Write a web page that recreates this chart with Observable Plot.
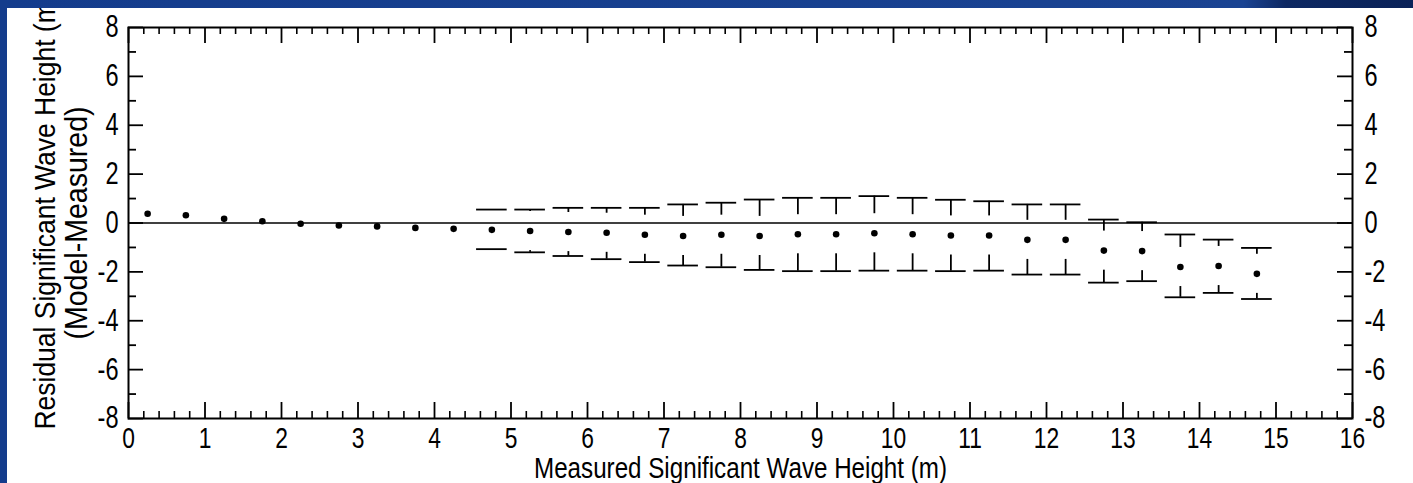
<!DOCTYPE html>
<html>
<head>
<meta charset="utf-8">
<script src="https://cdn.jsdelivr.net/npm/d3@7"></script>
<script src="https://cdn.jsdelivr.net/npm/@observablehq/plot@0.6"></script>
<style>
  html, body { margin: 0; padding: 0; background: #fff; }
  #wrap { position: relative; width: 1413px; height: 483px; overflow: hidden; }
  #topbar { position: absolute; left: 0; top: 0; width: 1413px; height: 8px;
    background: linear-gradient(90deg, #143c8c 0%, #1a4392 88%, #0d2862 91%, #0a2258 100%); }
  #leftbar { position: absolute; left: 0; top: 0; width: 7px; height: 483px; background: #143c8c; }
</style>
</head>
<body>
<div id="wrap"><div id="chart"></div><div id="topbar"></div><div id="leftbar"></div></div>
<script>
// Bin centres (measured significant wave height, m)
const binX = [0.25,0.75,1.25,1.75,2.25,2.75,3.25,3.75,4.25,4.75,5.25,5.75,6.25,6.75,7.25,7.75,8.25,8.75,9.25,9.75,10.25,10.75,11.25,11.75,12.25,12.75,13.25,13.75,14.25,14.75];
// Mean residual (model - measured, m)
const meanResidual = [0.38,0.32,0.17,0.07,-0.03,-0.10,-0.14,-0.20,-0.24,-0.28,-0.33,-0.37,-0.40,-0.48,-0.53,-0.48,-0.53,-0.46,-0.46,-0.42,-0.46,-0.51,-0.51,-0.69,-0.69,-1.13,-1.15,-1.80,-1.76,-2.08];
// Upper / lower error bar ends (null = no bar)
const upperBar = [null,null,null,null,null,null,null,null,null,0.55,0.55,0.62,0.62,0.62,0.76,0.83,0.96,1.03,1.03,1.10,1.03,0.95,0.89,0.76,0.76,0.14,0.03,-0.47,-0.68,-1.02];
const lowerBar = [null,null,null,null,null,null,null,null,null,-1.07,-1.20,-1.35,-1.48,-1.60,-1.74,-1.81,-1.92,-1.97,-1.97,-1.95,-1.95,-1.97,-1.95,-2.11,-2.11,-2.44,-2.38,-3.04,-2.86,-3.11];
// Tick labels
const xTickLabels = [0,1,2,3,4,5,6,7,8,9,10,11,12,13,14,15,16];
const yTickLabels = [-8,-6,-4,-2,0,2,4,6,8];
const yMinorTicks = [-7,-5,-3,-1,1,3,5,7];
const xTitle = "Measured Significant Wave Height (m)";
const yTitle1 = "Residual Significant Wave Height (m)";
const yTitle2 = "(Model-Measured)";

const rows = binX.map((x, i) => ({x, mean: meanResidual[i], hi: upperBar[i], lo: lowerBar[i]}));
const bars = rows.filter(d => d.hi != null);
const xMinor = d3.range(0, 80).map(i => i / 5).filter(v => !Number.isInteger(v) && v <= 16);

const W = 1413, H = 483, mL = 128, mR = 61, mT = 27, mB = 65;
const pw = W - mL - mR, ph = H - mT - mB;
const GAP = 0.8, CAP = 0.2;
const FONT = "'Liberation Sans', Arial, Helvetica, sans-serif";

const chart = Plot.plot({
  width: W, height: H,
  marginLeft: mL, marginRight: mR, marginTop: mT, marginBottom: mB,
  style: {fontFamily: FONT, fontSize: "28px", background: "#fff", color: "#000"},
  x: {domain: [0, 16], axis: null},
  y: {domain: [-8, 8], axis: null},
  marks: [
    Plot.ruleY([0], {stroke: "#000", strokeWidth: 1.6}),
    // ticks bottom/top
    Plot.tickX(xTickLabels, {x: d => d, insetTop: ph - 16, stroke: "#000", strokeWidth: 1.8}),
    Plot.tickX(xMinor, {x: d => d, insetTop: ph - 7, stroke: "#000", strokeWidth: 1.6}),
    Plot.tickX(xTickLabels, {x: d => d, insetBottom: ph - 16, stroke: "#000", strokeWidth: 1.8}),
    Plot.tickX(xMinor, {x: d => d, insetBottom: ph - 7, stroke: "#000", strokeWidth: 1.6}),
    // ticks left/right
    Plot.tickY(yTickLabels, {y: d => d, insetRight: pw - 15, stroke: "#000", strokeWidth: 1.8}),
    Plot.tickY(yMinorTicks, {y: d => d, insetRight: pw - 8, stroke: "#000", strokeWidth: 1.8}),
    Plot.tickY(yTickLabels, {y: d => d, insetLeft: pw - 15, stroke: "#000", strokeWidth: 1.8}),
    Plot.tickY(yMinorTicks, {y: d => d, insetLeft: pw - 8, stroke: "#000", strokeWidth: 1.8}),
    // error bars
    Plot.ruleY(bars, {y: "hi", x1: d => d.x - CAP, x2: d => d.x + CAP, stroke: "#000", strokeWidth: 1.8}),
    Plot.ruleY(bars, {y: "lo", x1: d => d.x - CAP, x2: d => d.x + CAP, stroke: "#000", strokeWidth: 1.8}),
    Plot.ruleX(bars.filter(d => d.hi > d.mean + GAP), {x: "x", y1: "hi", y2: d => d.mean + GAP, stroke: "#000", strokeWidth: 1.8}),
    Plot.ruleX(bars.filter(d => d.lo < d.mean - GAP), {x: "x", y1: "lo", y2: d => d.mean - GAP, stroke: "#000", strokeWidth: 1.8}),
    Plot.dot(rows, {x: "x", y: "mean", r: 3.3, fill: "#000", stroke: null}),
    Plot.frame({stroke: "#000", strokeWidth: 2}),
    // axis labels
    Plot.axisX(xTickLabels, {anchor: "bottom", tickSize: 0, tickPadding: 8, label: null, tickFormat: d => String(d), fontSize: 30}),
    Plot.axisY(yTickLabels, {anchor: "left", tickSize: 0, tickPadding: 10, label: null, tickFormat: d => String(d), fontSize: 31}),
    Plot.axisY(yTickLabels, {anchor: "right", tickSize: 0, tickPadding: 12, label: null, tickFormat: d => String(d), fontSize: 31}),
    Plot.text([xTitle], {frameAnchor: "bottom", dy: 50, lineAnchor: "middle", textAnchor: "middle", fontSize: 30}),
    Plot.text([yTitle1], {frameAnchor: "left", dx: -83, dy: -12, rotate: -90, lineAnchor: "middle", textAnchor: "middle", fontSize: 30}),
    Plot.text([yTitle2], {frameAnchor: "left", dx: -51, rotate: -90, lineAnchor: "middle", textAnchor: "middle", fontSize: 31})
  ]
});
document.getElementById("chart").appendChild(chart);

// Narrow the glyphs to match the condensed lettering of the original.
const fixedLengths = {[xTitle]: 413, [yTitle1]: 437, [yTitle2]: 233};
chart.querySelectorAll("text").forEach(t => {
  const s = t.textContent;
  const len = fixedLengths[s] != null ? fixedLengths[s] : t.getComputedTextLength() * 0.76;
  t.setAttribute("textLength", len);
  t.setAttribute("lengthAdjust", "spacingAndGlyphs");
});
</script>
</body>
</html>
